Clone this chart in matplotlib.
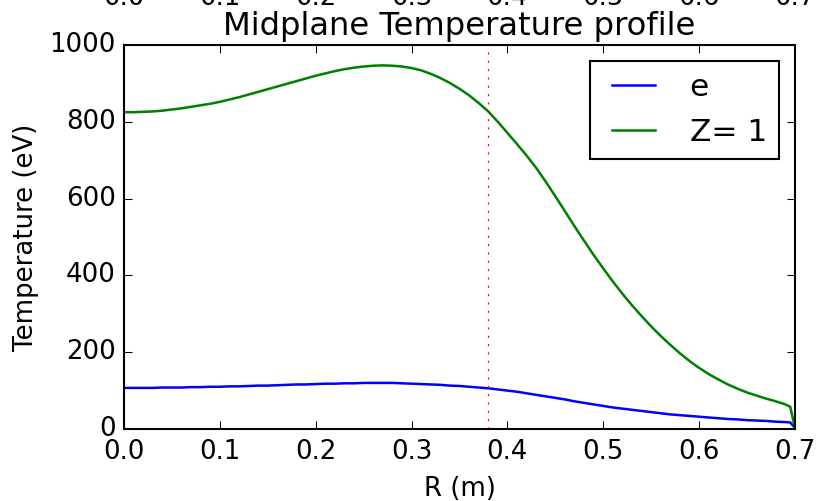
import matplotlib
matplotlib.use("Agg")
import matplotlib.pyplot as plt
from matplotlib.transforms import blended_transform_factory

plt.style.use("classic")
plt.rcParams["figure.facecolor"] = "white"
plt.rcParams["savefig.facecolor"] = "white"

R = [0.00, 0.01, 0.02, 0.03, 0.04, 0.05, 0.06, 0.07, 0.08, 0.09,
     0.10, 0.11, 0.12, 0.13, 0.14, 0.15, 0.16, 0.17, 0.18, 0.19,
     0.20, 0.21, 0.22, 0.23, 0.24, 0.25, 0.26, 0.27, 0.28, 0.29,
     0.30, 0.31, 0.32, 0.33, 0.34, 0.35, 0.36, 0.37, 0.38, 0.39,
     0.40, 0.41, 0.42, 0.43, 0.44, 0.45, 0.46, 0.47, 0.48, 0.49,
     0.50, 0.51, 0.52, 0.53, 0.54, 0.55, 0.56, 0.57, 0.58, 0.59,
     0.60, 0.61, 0.62, 0.63, 0.64, 0.65, 0.66, 0.67, 0.68, 0.69,
     0.695, 0.70]
T_e = [107, 107, 107, 107, 108, 108, 108, 109, 109, 110,
       110, 111, 111, 112, 113, 113, 114, 115, 116, 116,
       117, 118, 118, 119, 119, 120, 120, 120, 120, 119,
       118, 117, 116, 115, 113, 112, 110, 108, 106, 103,
       100, 97, 93, 89, 85, 81, 77, 72, 68, 64,
       60, 56, 53, 50, 47, 44, 41, 38, 36, 34,
       32, 30, 28, 26, 25, 23, 22, 21, 19, 18,
       17, 3]
T_z1 = [825, 825, 826, 827, 829, 832, 835, 839, 843, 847,
        852, 858, 864, 871, 878, 885, 892, 899, 906, 913,
        920, 926, 932, 937, 941, 944, 946, 947, 946, 944,
        940, 934, 925, 914, 901, 886, 869, 849, 827, 800,
        771, 742, 712, 680, 644, 606, 567, 528, 490, 453,
        418, 384, 352, 322, 294, 267, 242, 219, 197, 177,
        159, 143, 129, 116, 105, 95, 87, 79, 72, 64,
        58, 3]
R_sep = 0.38
top_ticks = [0.0, 0.1, 0.2, 0.3, 0.4, 0.5, 0.6, 0.7]

fig = plt.figure(figsize=(821 / 150, 501 / 150), dpi=150)
ax = fig.add_axes([124 / 821, 1 - 429 / 501, (795 - 124) / 821, (429 - 45) / 501])

ax.plot(R, T_e, color="b", lw=1.2, label="e")
ax.plot(R, T_z1, color="g", lw=1.2, label="Z= 1")
ax.axvline(R_sep, color="r", ls=":", lw=0.6)

ax.set_xlim(0, 0.7)
ax.set_ylim(0, 1000)
ax.set_xticks(top_ticks)
ax.set_yticks([0, 200, 400, 600, 800, 1000])
ax.tick_params(axis="x", labelsize=12.5, pad=5)
ax.tick_params(axis="y", labelsize=12.5, pad=4)
ax.set_xlabel("R (m)", fontsize=12.5)
ax.set_ylabel("Temperature (eV)", fontsize=12.5)
ax.set_title("Midplane Temperature profile", fontsize=15.5)
ax.legend(loc="upper right", fontsize=15)

# clipped tick labels of a panel above
tr = blended_transform_factory(ax.transData, fig.transFigure)
for t in top_ticks:
    ax.text(t, 1 - 5 / 501, f"{t:.1f}", transform=tr, ha="center", va="baseline",
            fontsize=12.5, clip_on=False)

fig.savefig("out.png", dpi=150)
